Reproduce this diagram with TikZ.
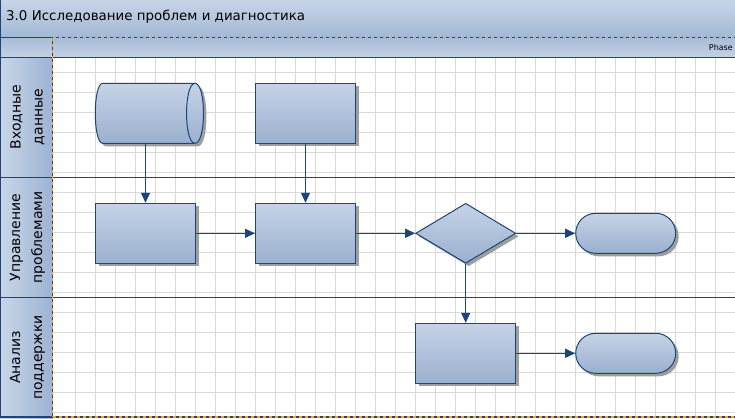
\documentclass[tikz,border=0pt]{standalone}
\usepackage{fontspec}
\setmainfont{DejaVu Sans}
\usetikzlibrary{arrows.meta,shapes.geometric,shapes.misc,shadows}
\definecolor{ln}{HTML}{1F4478}
\definecolor{fT}{HTML}{C6D3E6}
\definecolor{fB}{HTML}{9AB0CF}
\definecolor{gridc}{HTML}{D9D9D9}
\definecolor{orng}{HTML}{F7A325}
\definecolor{titT}{HTML}{C7D4E7}
\definecolor{titB}{HTML}{A3B8D5}
\definecolor{phT}{HTML}{A8BCD7}
\definecolor{phB}{HTML}{C4D2E6}
\definecolor{hdL}{HTML}{C9D6E8}
\definecolor{hdR}{HTML}{9DB3D2}
\tikzset{
  sh/.style={drop shadow={shadow xshift=3pt,shadow yshift=-3pt,fill=black!38,opacity=1}},
  shp/.style={draw=ln,line width=1pt,top color=fT,bottom color=fB,inner sep=0pt,sh},
  boxn/.style={shp,rectangle,minimum width=100pt,minimum height=60pt},
  dec/.style={shp,diamond,minimum width=100pt,minimum height=60pt},
  term/.style={shp,rounded rectangle,minimum width=100pt,minimum height=40pt},
  arr/.style={draw=ln,line width=1.2pt,-{Triangle[length=10pt,width=9pt]}},
  frame/.style={draw=ln,line width=1.2pt},
  odash/.style={draw=orng,line width=1.2pt,dash pattern=on 3pt off 3pt},
  gridl/.style={draw=gridc,line width=0.8pt},
  lane/.style={rotate=90,align=center,font=\fontsize{14}{22}\selectfont}
}
\begin{document}
\begin{tikzpicture}[x=1pt,y=-1pt]
\useasboundingbox (0,0) rectangle (735,418);
\fill[white] (0,0) rectangle (735,418);
% grid
\foreach \x in {75.5,95.5,...,735} \draw[gridl] (\x,57.5) -- (\x,416.5);
\foreach \y in {72.7,92.7,...,413} \draw[gridl] (52.5,\y) -- (735,\y);
% bars
\shade[top color=titT,bottom color=titB] (0,0) rectangle (735,37.5);
\shade[top color=phT,bottom color=phB] (0,37.5) rectangle (735,57.5);
\shade[left color=hdL,right color=hdR] (0,57.5) rectangle (52.5,418);
% frame lines
\draw[frame] (0,37.5) -- (735,37.5);
\draw[frame] (0,57.5) -- (735,57.5);
\draw[frame] (0,177.5) -- (735,177.5);
\draw[frame] (0,297.5) -- (735,297.5);
\draw[frame] (0,417) -- (735,417);
\draw[frame] (0.7,0) -- (0.7,418);
\draw[frame] (52.5,37.5) -- (52.5,417);
\draw[odash] (52.5,37.5) -- (735,37.5);
\draw[odash] (52.5,417) -- (735,417);
\draw[odash] (52.5,37.5) -- (52.5,417);
% texts
\node[anchor=base west,font=\fontsize{13.4}{13.4}\selectfont,inner sep=0pt] (title) at (6,20.7) {3.0 Исследование проблем и диагностика};
\node[anchor=east,font=\fontsize{8}{8}\selectfont,inner sep=0pt] (phase) at (733,48) {Phase};
\node[lane] (l1) at (27.5,117) {Входные\\данные};
\node[lane] (l2) at (27.5,237.5) {Управление\\проблемами};
\node[lane] (l3) at (27.5,357.5) {Анализ\\поддержки};
% cylinder (direct data) drawn as a shape
\fill[black!38,shift={(3,3)}] (102.7,83.3) -- (195,83.3)
  .. controls (206.3,83.3) and (206.3,143.3) .. (195,143.3) -- (102.7,143.3)
  .. controls (92.8,143.3) and (92.8,83.3) .. (102.7,83.3) -- cycle;
\shade[top color=fT,bottom color=fB] (102.7,83.3) -- (195,83.3)
  .. controls (206.3,83.3) and (206.3,143.3) .. (195,143.3) -- (102.7,143.3)
  .. controls (92.8,143.3) and (92.8,83.3) .. (102.7,83.3) -- cycle;
\draw[draw=ln,line width=1pt,line join=round] (102.7,83.3) -- (195,83.3)
  .. controls (206.3,83.3) and (206.3,143.3) .. (195,143.3) -- (102.7,143.3)
  .. controls (92.8,143.3) and (92.8,83.3) .. (102.7,83.3) -- cycle;
\draw[draw=ln,line width=1pt] (195,83.3) .. controls (183.7,83.3) and (183.7,143.3) .. (195,143.3);
\node[inner sep=0pt,minimum width=108pt,minimum height=60pt] (c1) at (149.5,113.3) {};
% shapes
\node[boxn] (b2) at (305.5,113.3) {};
\node[boxn] (b1) at (145.5,233.3) {};
\node[boxn] (b3) at (305.5,233.3) {};
\node[dec] (d1) at (465.7,233.3) {};
\node[term] (t1) at (625.7,233.3) {};
\node[boxn] (b4) at (465.7,353.3) {};
\node[term] (t2) at (625.7,353.3) {};
% connectors
\draw[arr] (b1.north |- c1.south) -- (b1.north);
\draw[arr] (b2.south) -- (b3.north);
\draw[arr] (b1.east) -- (b3.west);
\draw[arr] (b3.east) -- (d1.west);
\draw[arr] (d1.east) -- (t1.west);
\draw[arr] (d1.south) -- (b4.north);
\draw[arr] (b4.east) -- (t2.west);
\end{tikzpicture}
\end{document}
